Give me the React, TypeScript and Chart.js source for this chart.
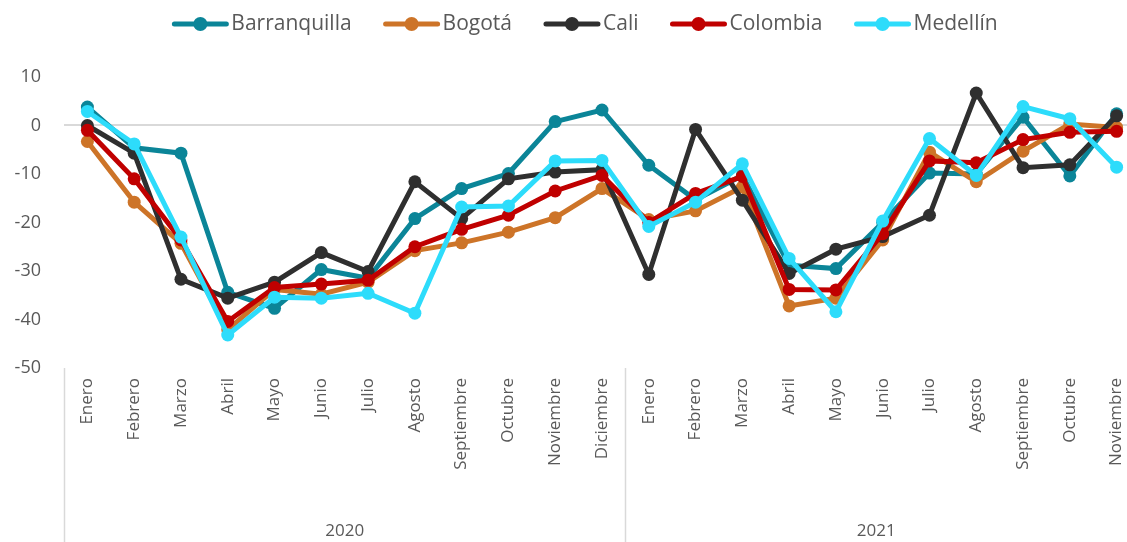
import React, { useEffect, useRef } from "react";
import { Chart, registerables } from "chart.js";

Chart.register(...registerables);

const categories = [
  "Enero", "Febrero", "Marzo", "Abril", "Mayo", "Junio", "Julio", "Agosto",
  "Septiembre", "Octubre", "Noviembre", "Diciembre",
  "Enero", "Febrero", "Marzo", "Abril", "Mayo", "Junio", "Julio", "Agosto",
  "Septiembre", "Octubre", "Noviembre",
];
const years = ["2020", "2021"];
const yearCounts = [12, 11];

const barranquilla = [3.8, -4.6, -5.7, -34.4, -37.7, -29.7, -31.5, -19.2, -13, -9.9, 0.8, 3.2, -8.2, -15.3, -10.3, -28.8, -29.5, -20, -9.8, -10, 1.7, -10.4, 2.4];
const bogota = [-3.3, -15.8, -24.3, -42.1, -33.8, -34.8, -32.3, -25.8, -24.2, -22, -19, -13, -19.4, -17.6, -12.7, -37.2, -35.6, -23.6, -5.5, -11.6, -5.3, 0.3, -0.4];
const cali = [0, -5.7, -31.7, -35.6, -32.3, -26.2, -30.1, -11.6, -19.2, -11, -9.6, -9.1, -30.7, -0.8, -15.4, -30.5, -25.5, -22.9, -18.5, 6.7, -8.7, -8.1, 2];
const colombia = [-1.0, -11, -23.6, -40.4, -33.4, -32.7, -31.9, -25, -21.4, -18.5, -13.5, -10.3, -20, -14, -10.5, -33.8, -33.9, -22.3, -7.3, -7.7, -2.9, -1.4, -1.2];
const medellin = [2.9, -3.8, -23, -43.2, -35.4, -35.6, -34.6, -38.7, -16.8, -16.6, -7.3, -7.2, -20.8, -15.8, -7.9, -27.4, -38.4, -19.7, -2.7, -10.3, 3.9, 1.4, -8.6];

const seriesNames = ["Barranquilla", "Bogotá", "Cali", "Colombia", "Medellín"];
const seriesValues = [barranquilla, bogota, cali, colombia, medellin];
const seriesColors = ["#0B8598", "#CD7428", "#2F2F2F", "#C00000", "#2DDCFB"];

const yMin = -50;
const yMax = 10;
const yStep = 10;

const TEXT = "#595959";
const FONT = '"Open Sans", "Liberation Sans", sans-serif';
const LEGEND_CX = 585;
const LEGEND_Y = 24;
const VISIBLE_W = 1127;

const legendPlugin = {
  id: "customLegend",
  afterDraw(chart: any) {
    const ctx = chart.ctx as CanvasRenderingContext2D;
    ctx.save();
    ctx.font = `21px ${FONT}`;
    const lineLen = 56;
    const gapText = 3;
    const gapItem = 32;
    const widths = seriesNames.map((n) => lineLen + gapText + ctx.measureText(n).width);
    const total = widths.reduce((a, b) => a + b, 0) + gapItem * (seriesNames.length - 1);
    let x = LEGEND_CX - total / 2;
    seriesNames.forEach((name, i) => {
      ctx.strokeStyle = seriesColors[i];
      ctx.fillStyle = seriesColors[i];
      ctx.lineWidth = 5;
      ctx.lineCap = "round";
      ctx.beginPath();
      ctx.moveTo(x + 2, LEGEND_Y);
      ctx.lineTo(x + lineLen - 2, LEGEND_Y);
      ctx.stroke();
      ctx.beginPath();
      ctx.arc(x + lineLen / 2, LEGEND_Y, 7, 0, Math.PI * 2);
      ctx.fill();
      ctx.fillStyle = TEXT;
      ctx.textBaseline = "middle";
      ctx.textAlign = "left";
      ctx.fillText(name, x + lineLen + gapText, LEGEND_Y);
      x += widths[i] + gapItem;
    });
    ctx.restore();
  },
};

const groupPlugin = {
  id: "groupAxis",
  afterDraw(chart: any) {
    const ctx = chart.ctx as CanvasRenderingContext2D;
    const xs = chart.scales.x;
    const area = chart.chartArea;
    const bottom = chart.height;
    ctx.save();
    const bounds: number[] = [area.left];
    let idx = 0;
    yearCounts.forEach((c) => {
      idx += c;
      if (idx < categories.length) {
        bounds.push((xs.getPixelForValue(idx - 1) + xs.getPixelForValue(idx)) / 2);
      } else {
        bounds.push(area.right);
      }
    });
    ctx.strokeStyle = "#D9D9D9";
    ctx.lineWidth = 1.5;
    bounds.forEach((bx) => {
      ctx.beginPath();
      ctx.moveTo(Math.round(bx) + 0.5, area.bottom);
      ctx.lineTo(Math.round(bx) + 0.5, bottom);
      ctx.stroke();
    });
    ctx.fillStyle = TEXT;
    ctx.font = `17px ${FONT}`;
    ctx.textAlign = "center";
    ctx.textBaseline = "middle";
    years.forEach((yr, i) => {
      const r = Math.min(bounds[i + 1], VISIBLE_W);
      ctx.fillText(yr, (bounds[i] + r) / 2, 531);
    });
    ctx.restore();
  },
};

export default function App() {
  const ref = useRef<HTMLCanvasElement | null>(null);
  useEffect(() => {
    if (!ref.current) return;
    const n = seriesNames.length;
    const chart = new Chart(ref.current, {
      type: "line",
      data: {
        labels: categories,
        datasets: seriesNames.map((name, i) => ({
          label: name,
          data: seriesValues[i],
          borderColor: seriesColors[i],
          backgroundColor: seriesColors[i],
          pointBackgroundColor: seriesColors[i],
          pointBorderColor: seriesColors[i],
          borderWidth: 5,
          pointRadius: 6.5,
          pointBorderWidth: 0,
          tension: 0,
          fill: false,
          order: n - i,
        })),
      },
      options: {
        responsive: false,
        maintainAspectRatio: false,
        animation: false,
        devicePixelRatio: 1,
        layout: { padding: { top: 77, right: 10, left: 0, bottom: 0 } },
        plugins: {
          legend: { display: false },
          tooltip: { enabled: false },
        },
        scales: {
          x: {
            type: "category",
            offset: true,
            border: { display: false },
            grid: { display: false, drawTicks: false },
            ticks: {
              autoSkip: false,
              minRotation: 90,
              maxRotation: 90,
              padding: 10,
              color: TEXT,
              font: { family: FONT, size: 17 },
            },
            afterFit(scale: any) {
              scale.height = 174;
            },
          },
          y: {
            min: yMin,
            max: yMax,
            border: { display: false },
            grid: {
              drawTicks: false,
              lineWidth: 2,
              color: (c: any) => (c.tick && c.tick.value === 0 ? "#D9D9D9" : "rgba(0,0,0,0)"),
            },
            ticks: {
              stepSize: yStep,
              padding: 23,
              color: TEXT,
              font: { family: FONT, size: 18 },
            },
            afterFit(scale: any) {
              scale.width = 64;
            },
          },
        },
      },
      plugins: [legendPlugin, groupPlugin],
    });
    return () => chart.destroy();
  }, []);
  return (
    <div
      style={{
        position: "fixed",
        left: 0,
        top: 0,
        width: 1127,
        height: 542,
        overflow: "hidden",
        background: "#fff",
      }}
    >
      <canvas ref={ref} width={1150} height={542} style={{ display: "block" }} />
    </div>
  );
}
